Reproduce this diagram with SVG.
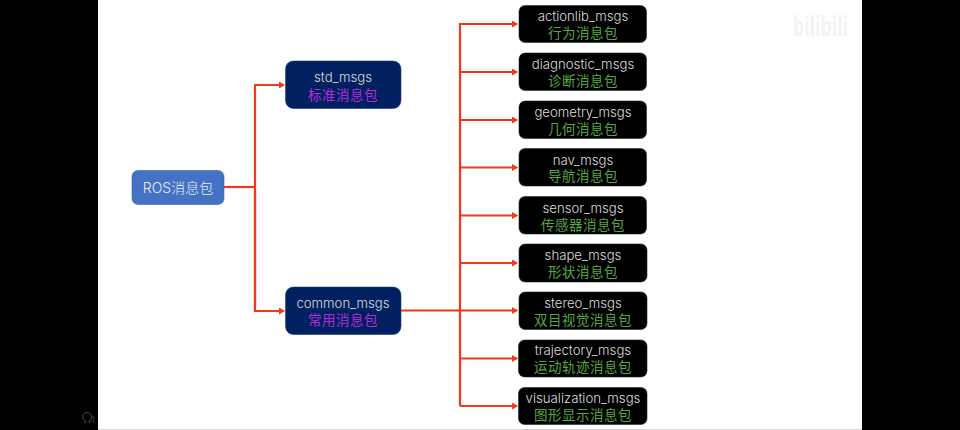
<svg xmlns="http://www.w3.org/2000/svg" width="960" height="430" viewBox="0 0 960 430">
<style>
text{text-anchor:middle;font-family:"Inter","Noto Sans CJK SC",sans-serif}
.t{font-size:13.200px;fill:#dcdcdc;font-weight:300}
.g{font-size:13.500px;letter-spacing:.5px;fill:#58a63f;font-family:"Noto Sans CJK SC",sans-serif}
.m{font-size:13.500px;letter-spacing:.5px;fill:#b82ad8;font-family:"Noto Sans CJK SC",sans-serif}
.k{fill:#000;stroke:#1c2a3c;stroke-width:.6}
.n{fill:#002060;stroke:#1f3f78;stroke-width:.6}
.c{fill:none;stroke:#f03a1c;stroke-width:2.200}
</style>
<defs><marker id="a" markerWidth="7" markerHeight="8" refX="5" refY="3.500" orient="auto" markerUnits="userSpaceOnUse"><path d="M0 0L6 3.500L0 7z" fill="#f03a1c"/></marker></defs>
<rect width="960" height="430" fill="#fff"/>
<rect x="0" y="0" width="98" height="430" fill="#000"/>
<rect x="862" y="0" width="98" height="430" fill="#000"/>
<rect x="98" y="429" width="764" height="1" fill="#d4d4d4"/>
<path d="M84 422.500h1.500v-1.500a4.500 4.500 0 1 1 3.500 0v1.500h1.500M92 418c1-2 2-1 2 0s-2 2-1 4h1" fill="none" stroke="#4a4a4a" stroke-width="1"/>
<text x="820.500" y="36" textLength="55" lengthAdjust="spacingAndGlyphs" style="font-family:'Noto Sans',sans-serif;font-size:26px;font-weight:700;fill:#f3f3f3">bilibili</text>
<g id="connectors">
<path class="c" d="M224 187H255"/>
<path class="c" d="M255 311V85H284" marker-end="url(#a)"/>
<path class="c" d="M255 187V311H284" marker-end="url(#a)"/>
<path class="c" d="M401 310.500H460"/>
<path class="c" d="M460 406V24H517" marker-end="url(#a)"/>
<path class="c" d="M460 72H517" marker-end="url(#a)"/>
<path class="c" d="M460 120H517" marker-end="url(#a)"/>
<path class="c" d="M460 167.500H517" marker-end="url(#a)"/>
<path class="c" d="M460 215.500H517" marker-end="url(#a)"/>
<path class="c" d="M460 263H517" marker-end="url(#a)"/>
<path class="c" d="M460 310.500H517" marker-end="url(#a)"/>
<path class="c" d="M460 358.500H517" marker-end="url(#a)"/>
<path class="c" d="M460 406H517" marker-end="url(#a)"/>
</g>
<g id="ros"><rect x="132" y="170.500" width="92" height="34" rx="6" fill="#4472c4" stroke="#3b62aa" stroke-width=".6"/><text x="178" y="193" style="font-size:14px;fill:#e8edf5;font-weight:300">ROS消息包</text></g>
<g id="std"><rect class="n" x="285.500" y="61" width="115.500" height="47.500" rx="8"/><text><tspan class="t" x="343" y="82">std_msgs</tspan><tspan class="m" x="343" y="99.500">标准消息包</tspan></text></g>
<g id="common"><rect class="n" x="285.500" y="287" width="115.500" height="47.500" rx="8"/><text><tspan class="t" x="343" y="308">common_msgs</tspan><tspan class="m" x="343" y="325">常用消息包</tspan></text></g>
<g id="n1"><rect class="k" x="519" y="5.500" width="127.500" height="37" rx="6"/><text><tspan class="t" x="583" y="21">actionlib_msgs</tspan><tspan class="g" x="583" y="38">行为消息包</tspan></text></g>
<g id="n2"><rect class="k" x="519" y="53" width="127.500" height="37.500" rx="6"/><text><tspan class="t" x="583" y="68.500">diagnostic_msgs</tspan><tspan class="g" x="583" y="86">诊断消息包</tspan></text></g>
<g id="n3"><rect class="k" x="519" y="101" width="127.500" height="37.500" rx="6"/><text><tspan class="t" x="583" y="117">geometry_msgs</tspan><tspan class="g" x="583" y="133.500">几何消息包</tspan></text></g>
<g id="n4"><rect class="k" x="519" y="148.500" width="127.500" height="37.500" rx="6"/><text><tspan class="t" x="583" y="164.500">nav_msgs</tspan><tspan class="g" x="583" y="181">导航消息包</tspan></text></g>
<g id="n5"><rect class="k" x="519" y="196.500" width="127.500" height="37.500" rx="6"/><text><tspan class="t" x="583" y="212.500">sensor_msgs</tspan><tspan class="g" x="583" y="229.500">传感器消息包</tspan></text></g>
<g id="n6"><rect class="k" x="519" y="244" width="128" height="38" rx="6"/><text><tspan class="t" x="583" y="260">shape_msgs</tspan><tspan class="g" x="583" y="277">形状消息包</tspan></text></g>
<g id="n7"><rect class="k" x="519" y="292" width="128" height="37.500" rx="6"/><text><tspan class="t" x="583" y="308">stereo_msgs</tspan><tspan class="g" x="583" y="324.500">双目视觉消息包</tspan></text></g>
<g id="n8"><rect class="k" x="518.500" y="340" width="128.500" height="37" rx="6"/><text><tspan class="t" x="583" y="355">trajectory_msgs</tspan><tspan class="g" x="583" y="372">运动轨迹消息包</tspan></text></g>
<g id="n9"><rect class="k" x="518.500" y="387.500" width="128.500" height="37" rx="6"/><text><tspan class="t" x="583" y="403">visualization_msgs</tspan><tspan class="g" x="583" y="420">图形显示消息包</tspan></text></g>
</svg>
